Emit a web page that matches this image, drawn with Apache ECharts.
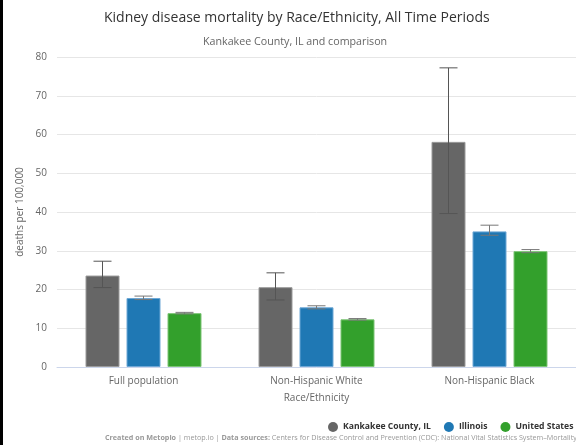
<!DOCTYPE html>
<html>
<head>
<meta charset="utf-8">
<script src="https://cdn.jsdelivr.net/npm/echarts@6/dist/echarts.min.js"></script>
<style>html,body{margin:0;padding:0;background:#fff}#c{width:576px;height:445px}</style>
</head>
<body>
<div id="c"></div>
<script>
const categories = ['Full population', 'Non-Hispanic White', 'Non-Hispanic Black'];
const seriesNames = ['Kankakee County, IL', 'Illinois', 'United States'];
const kankakee = [23.6, 20.6, 58.1];
const kankakeeLow = [20.5, 17.3, 39.6];
const kankakeeHigh = [27.3, 24.3, 77.2];
const illinois = [17.8, 15.4, 35.0];
const illinoisLow = [17.4, 15.0, 34.0];
const illinoisHigh = [18.3, 15.8, 36.6];
const unitedStates = [13.9, 12.3, 29.9];
const unitedStatesLow = [13.7, 12.1, 29.5];
const unitedStatesHigh = [14.1, 12.5, 30.3];
const yTicks = [0, 10, 20, 30, 40, 50, 60, 70, 80];

const colors = ['#666666', '#1f78b4', '#33a02c'];
const borders = ['#9a9a9a', '#6fa8d6', '#7cc474'];
const values = [kankakee, illinois, unitedStates];
const lows = [kankakeeLow, illinoisLow, unitedStatesLow];
const highs = [kankakeeHigh, illinoisHigh, unitedStatesHigh];

const BAR_W = 34, GAP = 7;
const errData = [];
for (let s = 0; s < 3; s++) for (let c = 0; c < 3; c++) errData.push([c, lows[s][c], highs[s][c], s]);

const chart = echarts.init(document.getElementById('c'));
const barSeries = seriesNames.map((n, i) => ({
  name: n, type: 'bar', data: values[i], barWidth: BAR_W, barGap: (GAP / BAR_W * 100) + '%',
  itemStyle: { color: colors[i], borderColor: borders[i], borderWidth: 1 },
  emphasis: { disabled: true }, z: 2
}));
chart.setOption({
  animation: false,
  textStyle: { fontFamily: 'Open Sans' },
  title: [
    { text: 'Kidney disease mortality by Race/Ethnicity, All Time Periods', left: 99, top: 6,
      textStyle: { fontSize: 14, fontWeight: 'normal', color: '#333', fontFamily: 'Open Sans' } },
    { text: 'Kankakee County, IL and comparison', left: 198, top: 31,
      textStyle: { fontSize: 10.7, fontWeight: 'normal', color: '#666', fontFamily: 'Open Sans' } }
  ],
  legend: {
    data: seriesNames, left: 328, top: 422, padding: 0, width: 400, icon: 'circle', itemWidth: 10, itemHeight: 10, itemGap: 13,
    itemStyle: { borderWidth: 0 },
    textStyle: { fontSize: 8.6, fontWeight: 'bold', color: '#333', fontFamily: 'Open Sans' }
  },
  grid: { left: 57, right: -5, top: 57, bottom: 78 },
  xAxis: {
    type: 'category', data: categories,
    axisLine: { lineStyle: { color: '#ccd6eb' } }, axisTick: { show: false },
    axisLabel: { color: '#666', fontSize: 10, margin: 9 },
    name: 'Race/Ethnicity', nameLocation: 'middle', nameGap: 26,
    nameTextStyle: { color: '#666', fontSize: 10 }
  },
  yAxis: {
    type: 'value', min: yTicks[0], max: yTicks[yTicks.length - 1], interval: 10,
    axisLine: { show: false }, axisTick: { show: false },
    axisLabel: { color: '#666', fontSize: 10, margin: 10 },
    splitLine: { lineStyle: { color: '#e6e6e6' } },
    name: 'deaths per 100,000', nameLocation: 'middle', nameGap: 29,
    nameTextStyle: { color: '#666', fontSize: 10 }
  },
  series: barSeries.concat([{
    type: 'custom', data: errData, z: 5, silent: true,
    encode: { x: 0, y: [1, 2] },
    renderItem: function (params, api) {
      const c = api.value(0), lo = api.value(1), hi = api.value(2), s = api.value(3);
      const off = (s - 1) * (BAR_W + GAP);
      const x = api.coord([c, 0])[0] + off;
      const yl = api.coord([c, lo])[1], yh = api.coord([c, hi])[1];
      const hw = 9;
      const st = { stroke: s === 0 ? '#555' : '#777', lineWidth: 1 };
      return { type: 'group', children: [
        { type: 'line', shape: { x1: x, y1: yl, x2: x, y2: yh }, style: st },
        { type: 'line', shape: { x1: x - hw, y1: yh, x2: x + hw, y2: yh }, style: st },
        { type: 'line', shape: { x1: x - hw, y1: yl, x2: x + hw, y2: yl }, style: st }
      ]};
    }
  }]),
  graphic: [
    { type: 'rect', left: 0, top: 0, shape: { width: 3, height: 445 }, style: { fill: '#000' } },
    { type: 'text', x: 105, y: 434, style: {
      text: '{b|Created on Metopio} | metop.io | {b|Data sources:} Centers for Disease Control and Prevention (CDC): National Vital Statistics System–Mortality (NVSS–M)',
      fill: '#999', fontSize: 7.2, fontFamily: 'Open Sans', width: 700, overflow: 'none',
      rich: { b: { fontWeight: 'bold', fill: '#999', fontSize: 7.2, fontFamily: 'Open Sans' } }
    } }
  ]
});
</script>
</body>
</html>
